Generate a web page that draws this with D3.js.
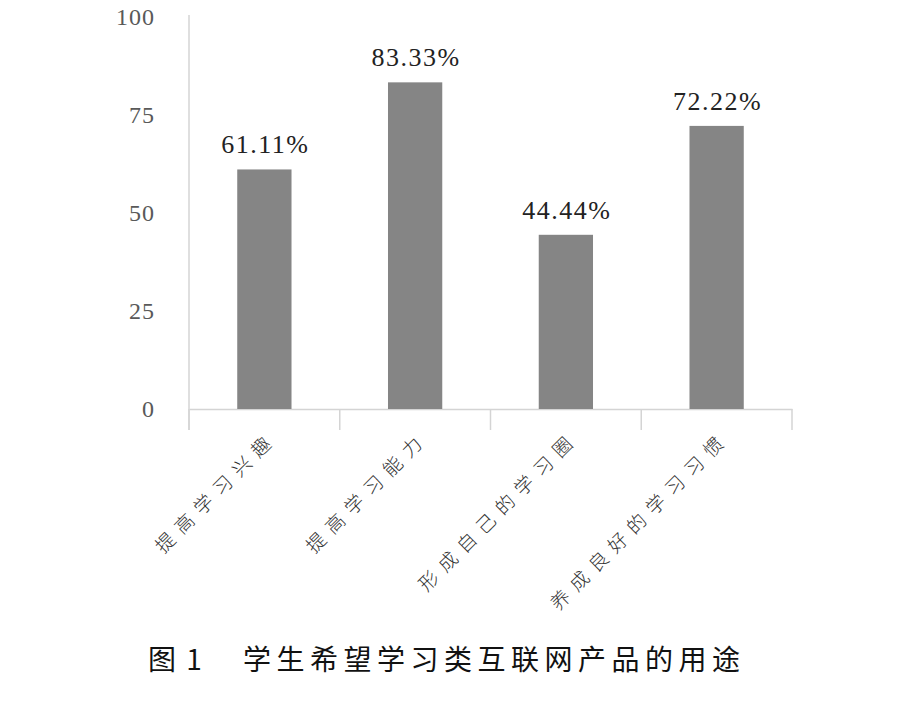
<!DOCTYPE html>
<html>
<head>
<meta charset="utf-8">
<script src="https://cdn.jsdelivr.net/npm/d3@7"></script>
<style>
  html, body { margin: 0; padding: 0; background: #fff; }
  svg { display: block; }
</style>
</head>
<body>
<svg id="chart" width="900" height="705"></svg>
<script>
const categories = ["提高学习兴趣", "提高学习能力", "形成自己的学习圈", "养成良好的学习习惯"];
const values = [61.11, 83.33, 44.44, 72.22];
const valueLabels = ["61.11%", "83.33%", "44.44%", "72.22%"];
const yTicks = [0, 25, 50, 75, 100];
const titleNumber = "图 1";
const titleText = "学生希望学习类互联网产品的用途";

const svg = d3.select("#chart");
const plotLeft = 189, plotRight = 792, plotTop = 17, plotBottom = 409;

const x = d3.scaleBand().domain(categories).range([plotLeft, plotRight]).paddingInner(0.64).paddingOuter(0.32);
const xb = d3.scaleBand().domain(categories).range([plotLeft, plotRight]);
const y = d3.scaleLinear().domain([0, 100]).range([plotBottom, plotTop]);

// y axis line (no ticks)
svg.append("line")
  .attr("x1", plotLeft).attr("x2", plotLeft)
  .attr("y1", 15).attr("y2", 430)
  .attr("stroke", "#d4d4d4").attr("stroke-width", 1.5);

// y tick labels
svg.append("g").selectAll("text").data(yTicks).join("text")
  .attr("x", 155).attr("y", d => y(d))
  .attr("dy", "0.35em")
  .attr("text-anchor", "end")
  .attr("font-family", "'Liberation Serif', 'DejaVu Serif', serif")
  .attr("font-size", 24)
  .attr("letter-spacing", 1)
  .attr("fill", "#595959")
  .text(d => d);

// x axis
const xAxis = d3.axisBottom(xb).tickSize(0).tickFormat("");
const gx = svg.append("g").attr("transform", `translate(0,${plotBottom})`).call(xAxis);
gx.select(".domain").attr("stroke", "#d4d4d4").attr("stroke-width", 1.5);
// band boundary ticks
const boundaries = categories.map(c => xb(c)).concat([plotRight]);
svg.append("g").selectAll("line").data(boundaries).join("line")
  .attr("x1", d => d).attr("x2", d => d)
  .attr("y1", plotBottom).attr("y2", 430)
  .attr("stroke", "#d4d4d4").attr("stroke-width", 1.5);

// bars
svg.append("g").selectAll("rect").data(values).join("rect")
  .attr("x", (d, i) => x(categories[i]))
  .attr("y", d => y(d))
  .attr("width", x.bandwidth())
  .attr("height", d => y(0) - y(d))
  .attr("fill", "#858585");

// value labels
svg.append("g").selectAll("text").data(values).join("text")
  .attr("x", (d, i) => xb(categories[i]) + xb.bandwidth() / 2 + 1)
  .attr("y", d => y(d) - 16)
  .attr("text-anchor", "middle")
  .attr("font-family", "'Liberation Serif', 'DejaVu Serif', serif")
  .attr("font-size", 26)
  .attr("letter-spacing", 1.5)
  .attr("fill", "#222")
  .text((d, i) => valueLabels[i]);

// category labels, rotated
svg.append("g").selectAll("text").data(categories).join("text")
  .attr("transform", d => `translate(${xb(d) + xb.bandwidth() / 2 + 9},${435}) rotate(-45)`)
  .attr("text-anchor", "end")
  .attr("dy", "0.35em")
  .attr("font-family", "'Noto Sans CJK SC', sans-serif")
  .attr("font-weight", 300)
  .attr("font-size", 19)
  .attr("letter-spacing", 8)
  .attr("fill", "#333")
  .text(d => d);

// title
svg.append("text")
  .attr("x", 148).attr("y", 670)
  .attr("font-family", "'Noto Sans CJK SC', sans-serif")
  .attr("font-size", 28)
  .attr("letter-spacing", 2)
  .attr("fill", "#111")
  .text(titleNumber);
svg.append("text")
  .attr("x", 243).attr("y", 670)
  .attr("font-family", "'Noto Sans CJK SC', sans-serif")
  .attr("font-size", 28)
  .attr("letter-spacing", 5.5)
  .attr("fill", "#111")
  .text(titleText);
</script>
</body>
</html>
